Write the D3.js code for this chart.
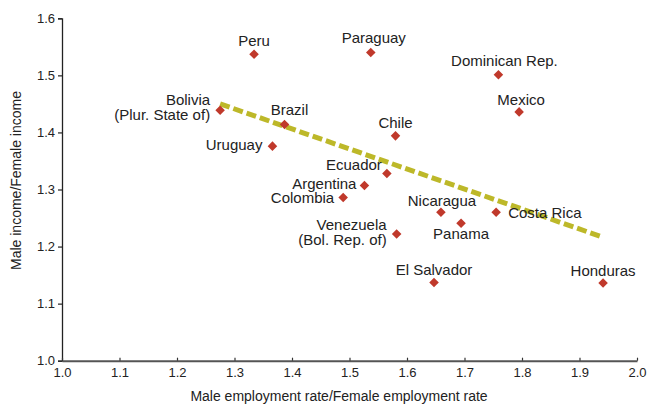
<!DOCTYPE html>
<html>
<head>
<meta charset="utf-8">
<script src="https://cdn.jsdelivr.net/npm/d3@7"></script>
<style>
  html, body { margin: 0; padding: 0; background: #fff; }
  svg { display: block; font-family: "Liberation Sans", Arial, sans-serif; }
</style>
</head>
<body>
<svg id="chart" width="648" height="404"></svg>
<script>
// ---- data ----
const countries = ["Peru", "Paraguay", "Dominican Rep.", "Mexico", "Bolivia\n(Plur. State of)", "Brazil", "Chile", "Uruguay", "Ecuador", "Argentina", "Colombia", "Nicaragua", "Panama", "Costa Rica", "Venezuela\n(Bol. Rep. of)", "El Salvador", "Honduras"];
const employmentRatio = [1.334, 1.537, 1.759, 1.795, 1.275, 1.387, 1.580, 1.366, 1.565, 1.526, 1.489, 1.659, 1.694, 1.755, 1.582, 1.647, 1.941];
const incomeRatio = [1.537, 1.540, 1.501, 1.436, 1.439, 1.414, 1.394, 1.376, 1.328, 1.307, 1.286, 1.260, 1.241, 1.260, 1.222, 1.137, 1.136];
const trendX = [1.275, 1.939];
const trendY = [1.450, 1.217];
const xTicks = [1.0, 1.1, 1.2, 1.3, 1.4, 1.5, 1.6, 1.7, 1.8, 1.9, 2.0];
const yTicks = [1.0, 1.1, 1.2, 1.3, 1.4, 1.5, 1.6];
const xTitle = "Male employment rate/Female employment rate";
const yTitle = "Male income/Female income";

// ---- label layout (anchor, dx, dy of first line baseline) ----
const labelLayout = [
  ["middle", 0, -8], ["middle", 3, -10], ["middle", 6, -9], ["middle", 2, -7],
  ["end", -10, -5], ["middle", 5, -9], ["middle", 0, -8], ["end", -10, 4],
  ["end", -5, -4], ["end", -8, 3], ["end", -9, 6], ["middle", 1, -6],
  ["middle", 0, 16], ["start", 12, 6], ["end", -10, -4], ["middle", 0, -8],
  ["middle", 0, -7]
];

const svg = d3.select("#chart");
const x = d3.scaleLinear().domain([1.0, 2.0]).range([62, 637]);
const y = d3.scaleLinear().domain([1.0, 1.6]).range([360.7, 18.3]);

// y axis
const yAxis = svg.append("g").attr("transform", "translate(" + x(1.0) + ",0)")
  .call(d3.axisLeft(y).tickValues(yTicks).tickFormat(d3.format(".1f")).tickSize(4).tickPadding(3));
yAxis.select(".domain").attr("stroke", "#222").attr("stroke-width", 1.3);
yAxis.selectAll(".tick line").attr("stroke", "#222").attr("stroke-width", 1.2);
yAxis.selectAll(".tick text").attr("font-size", 13).attr("fill", "#222")
  .attr("font-family", "Liberation Sans, Arial, sans-serif");

// x axis
const xAxis = svg.append("g").attr("transform", "translate(0," + y(1.0) + ")")
  .call(d3.axisBottom(x).tickValues(xTicks).tickFormat(d3.format(".1f")).tickSizeInner(-3).tickSizeOuter(0).tickPadding(7));
xAxis.select(".domain").attr("stroke", "#555").attr("stroke-width", 2);
xAxis.selectAll(".tick line").attr("stroke", "#333").attr("stroke-width", 1.2);
xAxis.selectAll(".tick text").attr("font-size", 13).attr("fill", "#222")
  .attr("font-family", "Liberation Sans, Arial, sans-serif");

// titles
svg.append("text").attr("x", 339).attr("y", 401)
  .attr("text-anchor", "middle").attr("font-size", 14).attr("fill", "#222").text(xTitle);
svg.append("text").attr("transform", "translate(21," + ((y(1.0) + y(1.6)) / 2 - 9) + ") rotate(-90)")
  .attr("text-anchor", "middle").attr("font-size", 14).attr("fill", "#222").text(yTitle);

// trend line
const trend = trendX.map((v, i) => [v, trendY[i]]);
svg.append("path").datum(trend)
  .attr("d", d3.line().x(d => x(d[0])).y(d => y(d[1])))
  .attr("stroke", "#bdb829").attr("stroke-width", 5).attr("fill", "none")
  .attr("stroke-dasharray", "10,4");

// points
const pts = countries.map((c, i) => ({ name: c, x: employmentRatio[i], y: incomeRatio[i], lay: labelLayout[i] }));
svg.append("g").selectAll("path").data(pts).join("path")
  .attr("d", d3.symbol().type(d3.symbolDiamond2).size(58))
  .attr("transform", d => "translate(" + x(d.x) + "," + y(d.y) + ")")
  .attr("fill", "#c0392b");

// labels
const lbl = svg.append("g").selectAll("text").data(pts).join("text")
  .attr("x", d => x(d.x) + d.lay[1])
  .attr("y", d => y(d.y) + d.lay[2])
  .attr("text-anchor", d => d.lay[0])
  .attr("font-size", 15).attr("fill", "#222");
lbl.each(function(d) {
  const lines = d.name.split("\n");
  const t = d3.select(this);
  lines.forEach((ln, k) => {
    t.append("tspan").attr("x", x(d.x) + d.lay[1]).attr("dy", k === 0 ? 0 : 15).text(ln);
  });
});
</script>
</body>
</html>
